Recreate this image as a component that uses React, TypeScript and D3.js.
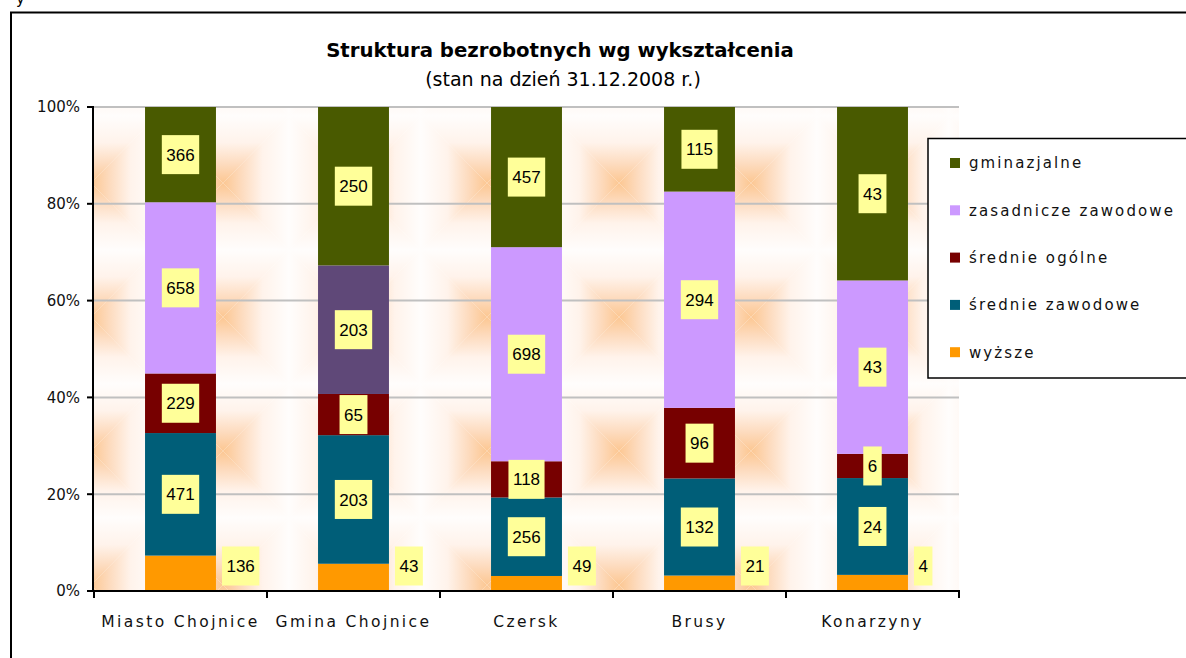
import React from "react";
import * as d3 from "d3";

const categories = ["Miasto Chojnice", "Gmina Chojnice", "Czersk", "Brusy", "Konarzyny"];
const seriesNames = ["wyższe", "średnie zawodowe", "średnie ogólne", "zasadnicze zawodowe", "gminazjalne"];
const wyzsze = [136, 43, 49, 21, 4];
const srednieZawodowe = [471, 203, 256, 132, 24];
const srednieOgolne = [229, 65, 118, 96, 6];
const zasadniczeZawodowe = [658, 203, 698, 294, 43];
const gimnazjalne = [366, 250, 457, 115, 43];
const yTicks = [0, 0.2, 0.4, 0.6, 0.8, 1];

const seriesValues = [wyzsze, srednieZawodowe, srednieOgolne, zasadniczeZawodowe, gimnazjalne];
const colors = ["#FF9900", "#005E78", "#770000", "#CC99FF", "#495A00"];
// one bar segment in the original is painted differently
const oddSegment = { cat: "Gmina Chojnice", series: "zasadnicze zawodowe", color: "#5F4878" };

const W = 1186;
const H = 658;
const AXIS_FONT = "'DejaVu Sans', Verdana, sans-serif";
const LABEL_FONT = "'Liberation Sans', Arial, sans-serif";

const measure = (() => {
  const ctx = document.createElement("canvas").getContext("2d");
  return (t: string, font: string) => {
    if (!ctx) return t.length * 9;
    ctx.font = font;
    return ctx.measureText(t).width;
  };
})();

const stops = [
  ["0", "#FCC792"],
  ["0.28", "#FDDBBE"],
  ["0.6", "#FFF3EB"],
  ["1", "#FFFDFC"],
];

const App = () => {
  const x = d3.scaleBand<string>().domain(categories).range([94, 959]).paddingInner(0.59).paddingOuter(0.295);
  const y = d3.scaleLinear().domain([0, 1]).range([591, 107]);

  const rows = categories.map((c, i) => {
    const r: any = { cat: c };
    seriesNames.forEach((s, k) => (r[s] = seriesValues[k][i]));
    return r;
  });
  const stacked = d3.stack<any>().keys(seriesNames).offset(d3.stackOffsetExpand)(rows);

  const step = x.step();
  const gap = (step - x.bandwidth()) / 2;
  const boundaries = categories.map((c) => x(c)! - gap).concat([x(categories[categories.length - 1])! + x.bandwidth() + gap]);

  const tileW = 132;
  const tileH = 134;
  const grads = [
    { id: "gTop", x1: 0, y1: tileH / 2, x2: 0, y2: 0 },
    { id: "gBot", x1: 0, y1: tileH / 2, x2: 0, y2: tileH },
    { id: "gLeft", x1: tileW / 2, y1: 0, x2: 0, y2: 0 },
    { id: "gRight", x1: tileW / 2, y1: 0, x2: tileW, y2: 0 },
  ];

  return (
    <svg width={W} height={H} style={{ position: "absolute", left: 0, top: 0, background: "#fff" }}>
      <defs>
        {grads.map((g) => (
          <linearGradient key={g.id} id={g.id} gradientUnits="userSpaceOnUse" x1={g.x1} y1={g.y1} x2={g.x2} y2={g.y2}>
            {stops.map(([o, c]) => (
              <stop key={o} offset={o} stopColor={c} />
            ))}
          </linearGradient>
        ))}
        <pattern id="peach" patternUnits="userSpaceOnUse" x={157} y={116} width={tileW} height={tileH}>
          <polygon points={`0,0 ${tileW},0 ${tileW / 2},${tileH / 2}`} fill="url(#gTop)" />
          <polygon points={`0,${tileH} ${tileW},${tileH} ${tileW / 2},${tileH / 2}`} fill="url(#gBot)" />
          <polygon points={`0,0 0,${tileH} ${tileW / 2},${tileH / 2}`} fill="url(#gLeft)" />
          <polygon points={`${tileW},0 ${tileW},${tileH} ${tileW / 2},${tileH / 2}`} fill="url(#gRight)" />
        </pattern>
      </defs>

      {/* fragment of the page above */}
      <text x={16} y={4} fontFamily={AXIS_FONT} fontSize={15}>y</text>

      {/* chart frame */}
      <rect x={11} y={12.5} width={W + 20} height={H + 20} fill="#fff" stroke="#000" strokeWidth={2} />

      <text x={560} y={57} textAnchor="middle" fontFamily={AXIS_FONT} fontWeight="bold" fontSize={19.7}>
        Struktura bezrobotnych wg wykształcenia
      </text>
      <text x={563} y={86} textAnchor="middle" fontFamily={AXIS_FONT} fontSize={19}>
        (stan na dzień 31.12.2008 r.)
      </text>

      {/* plot area */}
      <rect x={94} y={107} width={865} height={484} fill="url(#peach)" />
      {yTicks.map((t) => (
        <line key={t} x1={94} x2={959} y1={y(t)} y2={y(t)} stroke="#C0C0C0" strokeWidth={2} />
      ))}

      {stacked.map((layer, k) =>
        layer.map((d, i) => {
          const cat = categories[i];
          const fill = cat === oddSegment.cat && layer.key === oddSegment.series ? oddSegment.color : colors[k];
          return (
            <rect
              key={`${layer.key}-${cat}`}
              x={x(cat)!}
              y={y(d[1])}
              width={x.bandwidth()}
              height={y(d[0]) - y(d[1])}
              fill={fill}
            />
          );
        })
      )}

      {/* axes */}
      <line x1={93} x2={93} y1={106} y2={592} stroke="#000" strokeWidth={2} />
      <line x1={92} x2={960} y1={591} y2={591} stroke="#000" strokeWidth={2} />
      {yTicks.map((t) => (
        <g key={t}>
          <line x1={87} x2={93} y1={y(t)} y2={y(t)} stroke="#000" strokeWidth={2} />
          <text x={80} y={y(t)} dy="0.36em" textAnchor="end" fontFamily={AXIS_FONT} fontSize={15} fill="#111">
            {d3.format(".0%")(t)}
          </text>
        </g>
      ))}
      {boundaries.map((b) => (
        <line key={b} x1={b} x2={b} y1={591} y2={598} stroke="#000" strokeWidth={2} />
      ))}
      {categories.map((c) => (
        <text
          key={c}
          x={x(c)! + x.bandwidth() / 2}
          y={627}
          textAnchor="middle"
          fontFamily={AXIS_FONT}
          fontSize={15.5}
          style={{ letterSpacing: "2.4px" }}
          fill="#111"
        >
          {c}
        </text>
      ))}

      {/* data labels */}
      {stacked.map((layer, k) =>
        layer.map((d, i) => {
          const cat = categories[i];
          const v = seriesValues[k][i];
          const txt = String(v);
          const w = measure(txt, `17px ${LABEL_FONT}`) + 9;
          const h = 39;
          let cx = x(cat)! + x.bandwidth() / 2;
          let cy = (y(d[0]) + y(d[1])) / 2;
          if (k === 0) {
            cx = x(cat)! + x.bandwidth() + 6 + w / 2;
            cy = y(0) - 25;
          }
          return (
            <g key={`lbl-${layer.key}-${cat}`}>
              <rect x={cx - w / 2} y={cy - h / 2} width={w} height={h} fill="#FFFF99" />
              <text x={cx} y={cy} dy="0.36em" textAnchor="middle" fontFamily={LABEL_FONT} fontSize={17} fill="#000">
                {txt}
              </text>
            </g>
          );
        })
      )}

      {/* legend */}
      <rect x={928} y={138.5} width={300} height={239.5} fill="#fff" stroke="#000" strokeWidth={1.5} />
      {seriesNames
        .slice()
        .reverse()
        .map((s, j) => {
          const k = seriesNames.indexOf(s);
          const cy = 163 + j * 47.3;
          return (
            <g key={s}>
              <rect x={950} y={cy - 5} width={10} height={10} fill={colors[k]} />
              <text x={969} y={cy} dy="0.36em" fontFamily={AXIS_FONT} fontSize={15} style={{ letterSpacing: "2.1px" }} fill="#111">
                {s}
              </text>
            </g>
          );
        })}
    </svg>
  );
};

export default App;
